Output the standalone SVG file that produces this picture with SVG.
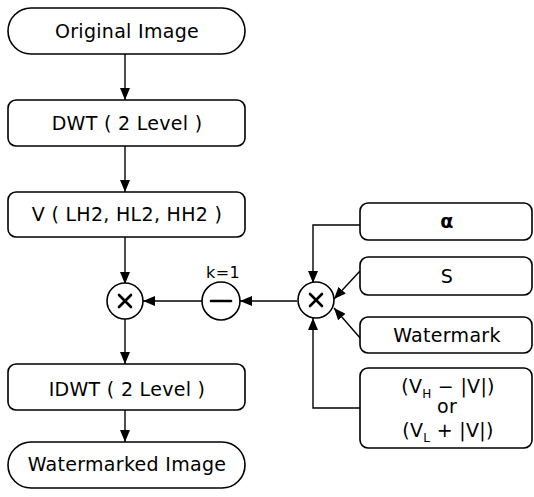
<svg xmlns="http://www.w3.org/2000/svg" width="534" height="497" viewBox="0 0 534 497">
  <style>
    .box { fill: #fff; stroke: #000; stroke-width: 1.6; }
    .lbl { font-family: "DejaVu Sans", "Liberation Sans", sans-serif; font-size: 19px; letter-spacing: 0.3px; fill: #000; text-anchor: middle; }
    .sub { font-size: 12px; }
    .wire { fill: none; stroke: #000; stroke-width: 1.4; }
    .op { stroke: #000; stroke-width: 2.6; fill: none; stroke-linecap: round; }
  </style>
  <defs>
    <marker id="arrow" viewBox="0 0 12 10" refX="12" refY="5" markerWidth="12" markerHeight="10" markerUnits="userSpaceOnUse" orient="auto">
      <path d="M0,0 L12,5 L0,10 Z" fill="#000"/>
    </marker>
  </defs>
  <rect width="534" height="497" fill="#fff"/>

  <g id="connectors">
    <line class="wire" x1="125" y1="54" x2="125" y2="100" marker-end="url(#arrow)"/>
    <line class="wire" x1="125" y1="146" x2="125" y2="192" marker-end="url(#arrow)"/>
    <line class="wire" x1="125" y1="237" x2="125" y2="284" marker-end="url(#arrow)"/>
    <line class="wire" x1="125" y1="319" x2="125" y2="364" marker-end="url(#arrow)"/>
    <line class="wire" x1="125" y1="410" x2="125" y2="442" marker-end="url(#arrow)"/>
    <line class="wire" x1="202" y1="301" x2="143" y2="301" marker-end="url(#arrow)"/>
    <line class="wire" x1="297" y1="301" x2="240" y2="301" marker-end="url(#arrow)"/>
    <polyline class="wire" points="360,225 313,225 313,283" marker-end="url(#arrow)"/>
    <line class="wire" x1="360" y1="271" x2="334" y2="299" marker-end="url(#arrow)"/>
    <line class="wire" x1="361" y1="339" x2="334" y2="308" marker-end="url(#arrow)"/>
    <polyline class="wire" points="360,408 313,408 313,318" marker-end="url(#arrow)"/>
  </g>

  <g id="original-image">
    <rect class="box" x="8" y="8" width="237" height="46" rx="23"/>
    <text class="lbl" x="127" y="38">Original Image</text>
  </g>
  <g id="dwt">
    <rect class="box" x="8" y="100" width="237" height="46" rx="8"/>
    <text class="lbl" x="127" y="130">DWT ( 2 Level )</text>
  </g>
  <g id="v-bands">
    <rect class="box" x="8" y="192" width="237" height="45" rx="8"/>
    <text class="lbl" x="127" y="221">V ( LH2, HL2, HH2 )</text>
  </g>
  <g id="mult-main">
    <circle class="box" cx="125" cy="301" r="18"/>
    <path class="op" d="M119,295 L131,307 M131,295 L119,307"/>
  </g>
  <g id="minus">
    <circle class="box" cx="221" cy="301" r="19"/>
    <path class="op" d="M211,301 L231,301"/>
    <text class="lbl" x="223" y="278" style="font-size:16px">k=1</text>
  </g>
  <g id="mult-side">
    <circle class="box" cx="316" cy="300" r="18"/>
    <path class="op" d="M310,294 L322,306 M322,294 L310,306"/>
  </g>
  <g id="idwt">
    <rect class="box" x="8" y="364" width="237" height="46" rx="8"/>
    <text class="lbl" x="127" y="396">IDWT ( 2 Level )</text>
  </g>
  <g id="watermarked-image">
    <rect class="box" x="8" y="442" width="237" height="46" rx="23"/>
    <text class="lbl" x="127" y="471">Watermarked Image</text>
  </g>
  <g id="alpha">
    <rect class="box" x="360" y="203" width="172" height="37" rx="8"/>
    <text class="lbl" x="447" y="228" style="font-weight:bold">α</text>
  </g>
  <g id="s">
    <rect class="box" x="360" y="257" width="172" height="38" rx="8"/>
    <text class="lbl" x="447" y="283">S</text>
  </g>
  <g id="watermark">
    <rect class="box" x="360" y="317" width="172" height="36" rx="8"/>
    <text class="lbl" x="447" y="342">Watermark</text>
  </g>
  <g id="v-range">
    <rect class="box" x="360" y="368" width="172" height="80" rx="8"/>
    <text class="lbl" x="448" y="393">(V<tspan class="sub" dy="5">H</tspan><tspan dy="-5"> − |V|)</tspan></text>
    <text class="lbl" x="447" y="413">or</text>
    <text class="lbl" x="448" y="437">(V<tspan class="sub" dy="5">L</tspan><tspan dy="-5"> + |V|)</tspan></text>
  </g>
</svg>
